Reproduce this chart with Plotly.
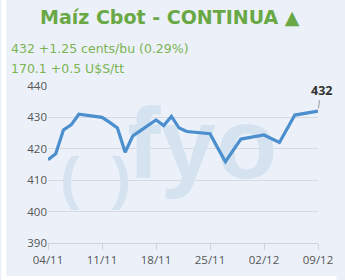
import plotly.graph_objects as go

dates = ["2024-11-04", "2024-11-05", "2024-11-06", "2024-11-07", "2024-11-08",
         "2024-11-11", "2024-11-12", "2024-11-13", "2024-11-14", "2024-11-15",
         "2024-11-18", "2024-11-19", "2024-11-20", "2024-11-21", "2024-11-22",
         "2024-11-25", "2024-11-26", "2024-11-27", "2024-11-29",
         "2024-12-02", "2024-12-03", "2024-12-04", "2024-12-05", "2024-12-06",
         "2024-12-09"]
prices = [416.5, 418.4, 426.0, 427.6, 431.0,
          430.0, 428.4, 426.6, 418.9, 424.1,
          429.2, 427.4, 430.3, 426.6, 425.5,
          424.8, 420.3, 415.9, 423.1,
          424.4, 423.2, 422.0, 426.4, 430.75,
          432.0]
tick_vals = ["2024-11-04", "2024-11-11", "2024-11-18", "2024-11-25", "2024-12-02", "2024-12-09"]
tick_text = ["04/11", "11/11", "18/11", "25/11", "02/12", "09/12"]
y_ticks = [390, 400, 410, 420, 430, 440]

title_text = "Maíz Cbot - CONTINUA ▲"
line1 = "432 +1.25 cents/bu (0.29%)"
line2 = "170.1 +0.5 U$S/tt"
last_label = "432"
wm_word = "fyo"
wm_parens = "(  )"

W, H = 345, 280
L, R, T, B = 48, 19, 86, 37
pw, ph = W - L - R, H - T - B

def px(x):
    return (x - L) / pw

def py(y):
    return (H - B - y) / ph

BG = "#ecf1f9"
WM = "#d5e3f0"
fig = go.Figure()
# watermark behind the line
fig.add_trace(go.Scatter(x=["2024-11-24"], y=[418.6], mode="text", text=["<b>" + wm_word + "</b>"],
                         textfont=dict(family="Liberation Sans", size=100, color=WM),
                         textposition="middle center", hoverinfo="skip", showlegend=False,
                         cliponaxis=False))
fig.add_trace(go.Scatter(x=["2024-11-10 04:00"], y=[409.0], mode="text", text=["<b>" + wm_parens + "</b>"],
                         textfont=dict(family="Liberation Sans", size=58, color=WM),
                         textposition="middle center", hoverinfo="skip", showlegend=False,
                         cliponaxis=False))
fig.add_trace(go.Scatter(x=dates, y=prices, mode="lines",
                         line=dict(color="#4b8fcf", width=3.2),
                         hoverinfo="skip", showlegend=False))

fig.update_layout(
    width=W, height=H,
    margin=dict(l=L, r=R, t=T, b=B),
    paper_bgcolor=BG, plot_bgcolor=BG,
    xaxis=dict(range=["2024-11-04", "2024-12-09"], tickvals=tick_vals, ticktext=tick_text,
               showgrid=False, showline=True, linecolor="#ccd3dc", linewidth=1,
               ticks="outside", ticklen=6, tickcolor="#ccd3dc",
               tickfont=dict(family="Open Sans", size=11.5, color="#555555"), zeroline=False),
    yaxis=dict(range=[390, 440], tickvals=y_ticks, showgrid=True, gridcolor="#d6dbe2",
               gridwidth=1, showline=False, zeroline=False, ticks="",
               tickfont=dict(family="Open Sans", size=11.5, color="#555555")),
    shapes=[
        dict(type="rect", xref="paper", yref="paper", x0=px(0), x1=px(5), y0=py(280), y1=py(0),
             fillcolor="white", line=dict(width=0), layer="above"),
        dict(type="rect", xref="paper", yref="paper", x0=px(0), x1=px(345), y0=py(280), y1=py(276),
             fillcolor="white", line=dict(width=0), layer="above"),
    ],
    annotations=[
        dict(text="<b>" + title_text + "</b>", xref="paper", yref="paper", x=px(174), y=py(17),
             showarrow=False, xanchor="center", yanchor="middle",
             font=dict(family="DejaVu Sans", size=19, color="#69a845")),
        dict(text=line1, xref="paper", yref="paper", x=px(8), y=py(48),
             showarrow=False, xanchor="left", yanchor="middle",
             font=dict(family="DejaVu Sans", size=12.5, color="#7bb453")),
        dict(text=line2, xref="paper", yref="paper", x=px(8), y=py(68),
             showarrow=False, xanchor="left", yanchor="middle",
             font=dict(family="DejaVu Sans", size=12.5, color="#7bb453")),
        dict(text="<b>" + last_label + "</b>", x=dates[-1], y=prices[-1],
             xref="x", yref="y", showarrow=True, arrowhead=0, arrowwidth=1,
             arrowcolor="#999999", ax=3, ay=-21, standoff=3,
             font=dict(family="Open Sans", size=12.5, color="#333333")),
    ],
)

fig.write_html("out.html")
